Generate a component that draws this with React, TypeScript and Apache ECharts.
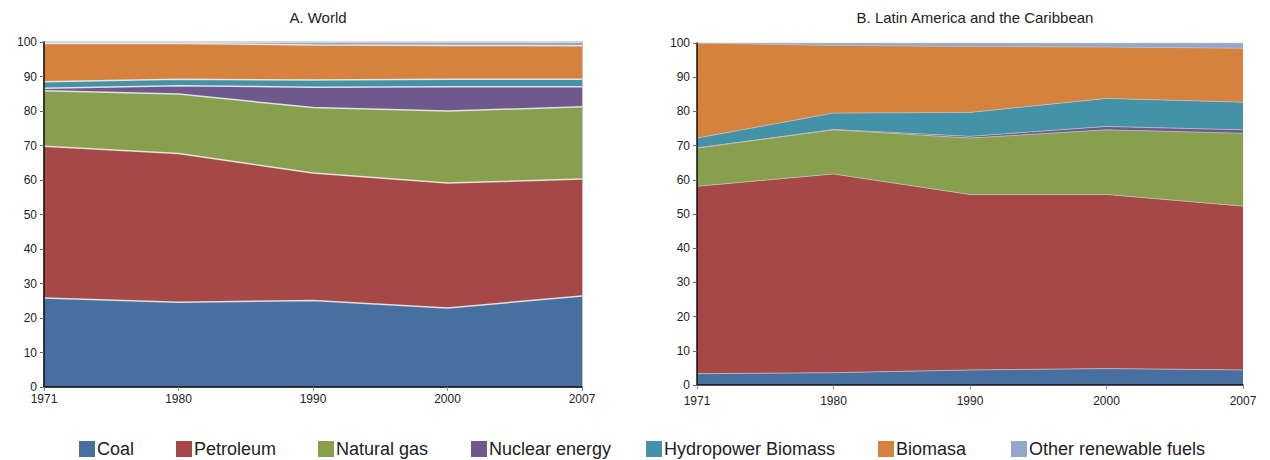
import React, { useEffect, useRef } from "react";
import * as echarts from "echarts";

const years = ["1971", "1980", "1990", "2000", "2007"];
const seriesNames = [
  "Coal",
  "Petroleum",
  "Natural gas",
  "Nuclear energy",
  "Hydropower Biomass",
  "Biomasa",
  "Other renewable fuels",
];
const colors = ["#4770a0", "#a54846", "#88a04e", "#6e588c", "#4392a8", "#d4823d", "#93a7cb"];

// A. World (% share)
const worldCoal = [25.8, 24.6, 25.1, 22.9, 26.4];
const worldPetroleum = [44.0, 43.1, 36.9, 36.2, 33.9];
const worldGas = [16.1, 17.2, 19.0, 20.9, 20.9];
const worldNuclear = [0.7, 2.4, 5.9, 7.0, 5.8];
const worldHydro = [1.9, 1.9, 2.1, 2.2, 2.2];
const worldBiomasa = [11.1, 10.4, 10.1, 9.8, 9.7];
const worldOther = [0.4, 0.4, 0.9, 1.0, 1.1];

// B. Latin America and the Caribbean (% share)
const latamCoal = [3.3, 3.6, 4.4, 4.8, 4.4];
const latamPetroleum = [54.8, 58.1, 51.3, 50.9, 47.9];
const latamGas = [11.2, 12.9, 16.5, 18.9, 21.3];
const latamNuclear = [0.0, 0.1, 0.5, 1.0, 1.0];
const latamHydro = [2.9, 4.8, 7.0, 8.2, 8.1];
const latamBiomasa = [27.8, 19.8, 19.3, 15.0, 15.8];
const latamOther = [0.0, 0.7, 1.0, 1.2, 1.5];

const yTicks = { min: 0, max: 100, interval: 10 };

const worldData = [worldCoal, worldPetroleum, worldGas, worldNuclear, worldHydro, worldBiomasa, worldOther];
const latamData = [latamCoal, latamPetroleum, latamGas, latamNuclear, latamHydro, latamBiomasa, latamOther];

const legendLefts = [79, 176, 318, 471, 646, 878, 1011];

export default function App() {
  const ref = useRef<HTMLDivElement>(null);
  useEffect(() => {
    if (!ref.current) return;
    const chart = echarts.init(ref.current, undefined, { renderer: "svg" });
    const font = "Liberation Sans, Arial, Helvetica, sans-serif";
    const makeX = (gridIndex: number, margin: number) => ({
      type: "category" as const,
      gridIndex,
      data: years,
      boundaryGap: false,
      axisLine: { lineStyle: { color: "#111", width: 1.5 } },
      axisTick: { show: true, length: 4, lineStyle: { color: "#888" } },
      axisLabel: { color: "#222", fontSize: 12, fontFamily: font, margin },
      splitLine: { show: false },
      z: 10,
    });
    const makeY = (gridIndex: number) => ({
      type: "value" as const,
      gridIndex,
      min: yTicks.min,
      max: yTicks.max,
      interval: yTicks.interval,
      axisLine: { show: true, lineStyle: { color: "#111", width: 1.5 } },
      axisTick: { show: true, length: 4, lineStyle: { color: "#666" } },
      axisLabel: { color: "#222", fontSize: 12, fontFamily: font, margin: 7 },
      splitLine: { show: false },
      z: 10,
    });
    const series: any[] = [];
    seriesNames.forEach((name, i) => {
      series.push({
        name,
        type: "line",
        xAxisIndex: 0,
        yAxisIndex: 0,
        stack: "world",
        data: worldData[i],
        symbol: "none",
        color: colors[i],
        lineStyle: { color: "rgba(235,235,235,0.9)", width: 1.5 },
        areaStyle: { color: colors[i], opacity: 1 },
      });
    });
    seriesNames.forEach((name, i) => {
      series.push({
        name,
        type: "line",
        xAxisIndex: 1,
        yAxisIndex: 1,
        stack: "latam",
        data: latamData[i],
        symbol: "none",
        color: colors[i],
        lineStyle: { color: "rgba(190,190,190,0.8)", width: 1 },
        areaStyle: { color: colors[i], opacity: 1 },
      });
    });
    const legends = seriesNames.map((name, i) => ({
      data: [name],
      left: legendLefts[i],
      top: 440,
      padding: 0,
      icon: "rect",
      itemWidth: 16,
      itemHeight: 16,
      textStyle: { fontSize: 18, color: "#222", fontFamily: font, padding: [0, 0, 0, -3] },
    }));
    chart.setOption({
      animation: false,
      textStyle: { fontFamily: font },
      title: [
        {
          text: "A. World",
          left: 313,
          top: 5,
          textAlign: "center",
          textStyle: { fontSize: 15, fontWeight: "normal", color: "#222", fontFamily: font },
        },
        {
          text: "B. Latin America and the Caribbean",
          left: 970,
          top: 5,
          textAlign: "center",
          textStyle: { fontSize: 15, fontWeight: "normal", color: "#222", fontFamily: font },
        },
      ],
      legend: legends,
      grid: [
        {
          left: 44,
          right: 688,
          top: 42,
          bottom: 73,
          show: true,
          borderColor: "#c4c4c4",
          borderWidth: 2,
          backgroundColor: "transparent",
        },
        { left: 697, right: 27, top: 43, bottom: 75 },
      ],
      xAxis: [makeX(0, 6), makeX(1, 10)],
      yAxis: [makeY(0), makeY(1)],
      series,
    });
    return () => chart.dispose();
  }, []);
  return (
    <div
      ref={ref}
      style={{ position: "fixed", left: 0, top: 0, width: 1270, height: 460, background: "#fff" }}
    />
  );
}
